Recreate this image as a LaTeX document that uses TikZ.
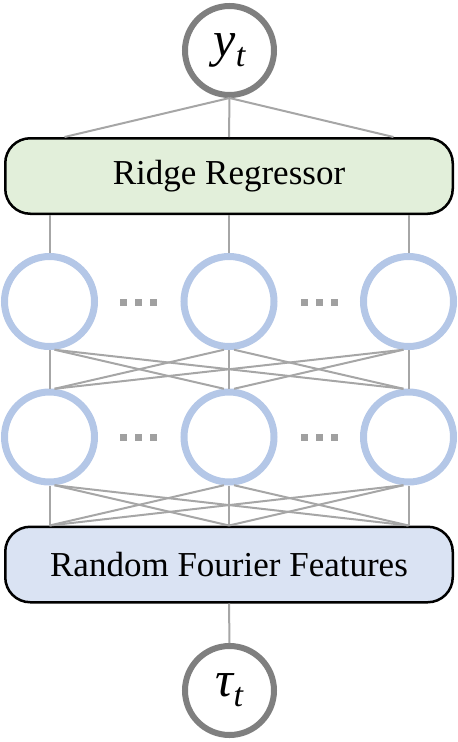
\documentclass[tikz,border=0pt]{standalone}
\usepackage{fontspec}
\setmainfont{Liberation Serif}
\usetikzlibrary{calc}
\definecolor{outgray}{HTML}{7F7F7F}
\definecolor{linkgray}{HTML}{A6A6A6}
\definecolor{hidblue}{HTML}{B4C7E7}
\definecolor{boxgreen}{HTML}{E2EFDA}
\definecolor{boxblue}{HTML}{DAE3F3}
\definecolor{dotgray}{HTML}{A0A0A0}
\tikzset{
  iocirc/.style={circle, draw=outgray, line width=6pt, minimum size=89pt, inner sep=0pt, fill=white},
  hidcirc/.style={circle, draw=hidblue, line width=7pt, minimum size=90pt, inner sep=0pt},
  layerbox/.style={rectangle, rounded corners=25pt, draw=black, line width=2.5pt,
    minimum width=447.5pt, minimum height=75.5pt, inner sep=0pt,
    font=\fontsize{35}{40}\selectfont},
  link/.style={draw=linkgray, line width=2pt},
  dotsq/.style={rectangle, fill=dotgray, minimum size=7pt, inner sep=0pt},
}
\begin{document}
\begin{tikzpicture}[x=1pt, y=-1pt]
\useasboundingbox (0,0) rectangle (458,742);
% nodes
\node[iocirc] (yt) at (229.5,50.5) {\fontsize{50}{56}\selectfont\itshape y\raisebox{-10pt}{\fontsize{34}{38}\selectfont t}};
\node[layerbox, fill=boxgreen] (rr) at (229,176) {Ridge Regressor};
\node[hidcirc] (h11) at (49.5,301.5) {};
\node[hidcirc] (h12) at (229,301.5) {};
\node[hidcirc] (h13) at (408.5,301.5) {};
\node[hidcirc] (h21) at (49.5,437) {};
\node[hidcirc] (h22) at (229,437) {};
\node[hidcirc] (h23) at (408.5,437) {};
\node[layerbox, fill=boxblue] (rff) at (229,564.5) {Random Fourier Features};
\node[iocirc] (tau) at (229.5,690.5) {\fontsize{50}{56}\selectfont\itshape τ\raisebox{-10pt}{\fontsize{34}{38}\selectfont t}};
% dots
\foreach \yy/\r in {302/a,437/b}{
  \foreach \xx/\c in {123.5/1,138.5/2,153.5/3,304.5/4,319.5/5,334.5/6}{
    \node[dotsq] (d\r\c) at (\xx,\yy) {};
  }
}
% output links
\draw[link] (yt.south) -- ($(rr.north)!0.731!(rr.north west)$);
\draw[link] (yt.south) -- (rr.north);
\draw[link] (yt.south) -- ($(rr.north)!0.731!(rr.north east)$);
% box to hidden layer 1
\foreach \h in {h11,h12,h13}{
  \draw[link] (\h.north |- rr.south) -- (\h.north);
}
% hidden 1 to hidden 2
\draw[link] (h11.south) -- (h21.north);
\draw[link] (h12.south) -- (h22.north);
\draw[link] (h13.south) -- (h23.north);
\draw[link] (h11.-84) -- (h22.96);
\draw[link] (h11.-84) -- (h23.96);
\draw[link] (h12.-96) -- (h21.84);
\draw[link] (h12.-84) -- (h23.96);
\draw[link] (h13.-96) -- (h21.84);
\draw[link] (h13.-96) -- (h22.84);
% hidden 2 to rff
\draw[link] (h21.south) -- (h21.south |- rff.north);
\draw[link] (h22.south) -- (h22.south |- rff.north);
\draw[link] (h23.south) -- (h23.south |- rff.north);
\draw[link] (h21.-84) -- (h22.south |- rff.north);
\draw[link] (h21.-84) -- (h23.south |- rff.north);
\draw[link] (h22.-96) -- (h21.south |- rff.north);
\draw[link] (h22.-84) -- (h23.south |- rff.north);
\draw[link] (h23.-96) -- (h21.south |- rff.north);
\draw[link] (h23.-96) -- (h22.south |- rff.north);
% input link
\draw[link] (rff.south) -- (tau.north);
\end{tikzpicture}
\end{document}
